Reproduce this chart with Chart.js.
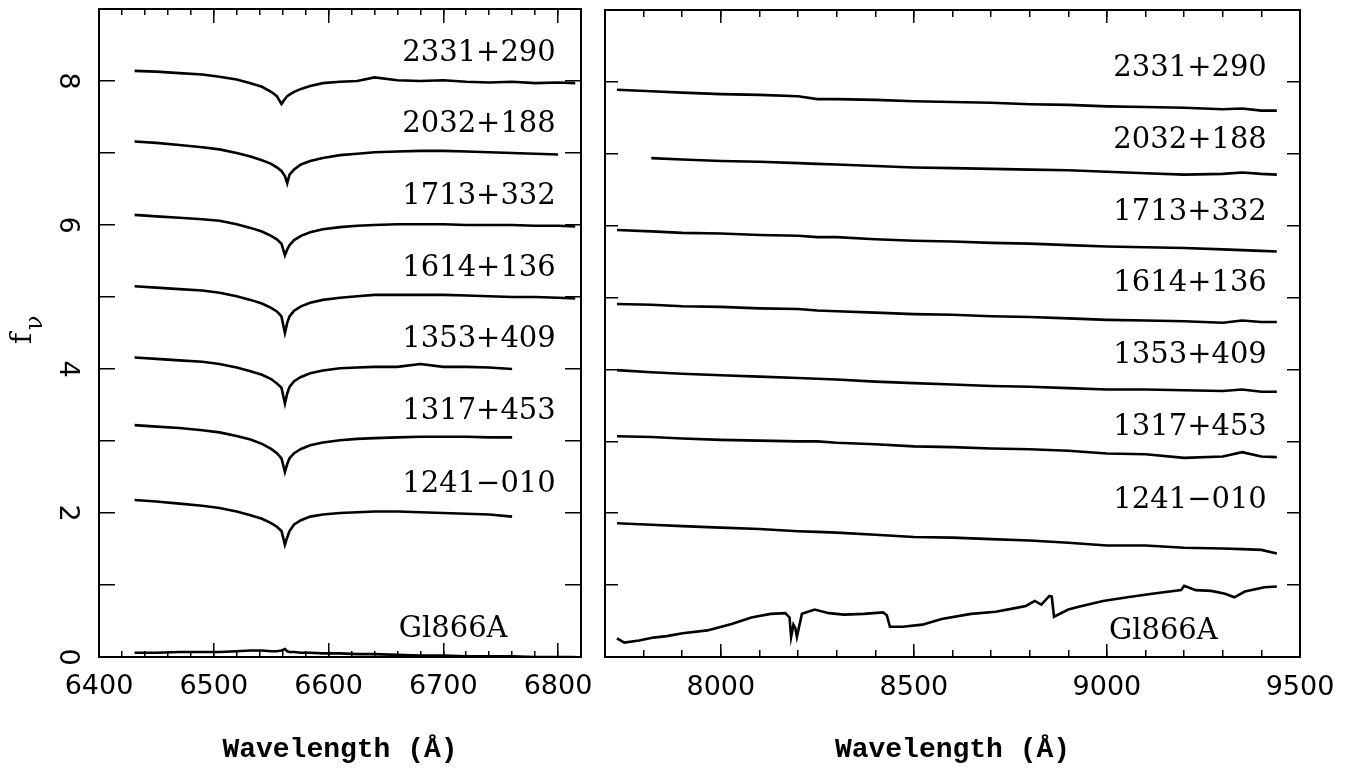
<!DOCTYPE html>
<html>
<head>
<meta charset="utf-8">
<script src="https://cdn.jsdelivr.net/npm/chart.js@4/dist/chart.umd.min.js"></script>
<style>
  html, body { margin: 0; padding: 0; background: #fff; }
  .panel { position: absolute; top: 0; height: 769px; }
  #leftBox { left: 0; width: 595px; }
  #rightBox { left: 595px; width: 760px; }
</style>
</head>
<body>
<div class="panel" id="leftBox"><canvas id="leftChart"></canvas></div>
<div class="panel" id="rightBox"><canvas id="rightChart"></canvas></div>
<script>
// Star names, top to bottom
const starNames = ['2331+290', '2032+188', '1713+332', '1614+136', '1353+409', '1317+453', '1241\u2212010', 'Gl866A'];

// Axis ticks
const leftMajorTicks = [6400, 6500, 6600, 6700, 6800];
const rightMajorTicks = [8000, 8500, 9000, 9500];
const fluxTickLabels = [0, 2, 4, 6, 8];

// Left panel: H-alpha region (wavelength in A, offset f_nu)
const leftWave = [6431, 6450, 6470, 6490, 6505, 6520, 6532, 6542, 6550, 6555, 6559, 6562, 6564, 6566, 6570, 6576, 6584, 6595, 6610, 6625, 6640, 6660, 6680, 6700, 6720, 6740, 6760, 6780, 6800, 6815];
const blue2331 = [8.14, 8.13, 8.11, 8.09, 8.06, 8.02, 7.97, 7.92, 7.85, 7.79, 7.68, 7.75, 7.79, 7.81, 7.85, 7.89, 7.93, 7.97, 7.99, 8.00, 8.05, 8.01, 8.00, 8.01, 7.99, 7.98, 7.99, 7.97, 7.98, 7.97];
const blue2032 = [7.16, 7.14, 7.11, 7.08, 7.05, 7.00, 6.95, 6.90, 6.85, 6.80, 6.75, 6.68, 6.58, 6.70, 6.77, 6.84, 6.89, 6.93, 6.97, 6.99, 7.01, 7.02, 7.03, 7.03, 7.02, 7.01, 7.00, 6.99, 6.98];
const blue1713 = [6.14, 6.12, 6.10, 6.08, 6.06, 6.01, 5.96, 5.91, 5.85, 5.80, 5.74, 5.58, 5.66, 5.72, 5.79, 5.85, 5.90, 5.94, 5.97, 5.99, 6.00, 6.01, 6.01, 6.01, 6.00, 6.00, 6.00, 5.99, 5.99, 5.98];
const blue1614 = [5.15, 5.13, 5.11, 5.09, 5.06, 5.01, 4.96, 4.91, 4.85, 4.80, 4.73, 4.50, 4.64, 4.73, 4.81, 4.87, 4.92, 4.96, 4.99, 5.01, 5.03, 5.03, 5.03, 5.03, 5.02, 5.01, 5.00, 5.00, 4.99, 4.98];
const blue1353 = [4.16, 4.14, 4.12, 4.10, 4.07, 4.02, 3.97, 3.92, 3.86, 3.80, 3.74, 3.52, 3.66, 3.75, 3.83, 3.89, 3.94, 3.98, 4.01, 4.02, 4.03, 4.03, 4.07, 4.03, 4.03, 4.02, 4.00];
const blue1317 = [3.22, 3.20, 3.18, 3.15, 3.12, 3.07, 3.02, 2.96, 2.89, 2.83, 2.76, 2.57, 2.68, 2.76, 2.83, 2.89, 2.94, 2.98, 3.01, 3.03, 3.04, 3.05, 3.06, 3.06, 3.06, 3.05, 3.05];
const blue1241 = [2.18, 2.16, 2.13, 2.10, 2.07, 2.02, 1.97, 1.92, 1.86, 1.81, 1.75, 1.56, 1.66, 1.75, 1.84, 1.90, 1.95, 1.98, 2.00, 2.01, 2.02, 2.02, 2.01, 2.00, 1.99, 1.98, 1.95];
const blueGl866 = [0.06, 0.06, 0.07, 0.07, 0.07, 0.08, 0.09, 0.09, 0.08, 0.08, 0.09, 0.11, 0.08, 0.07, 0.07, 0.06, 0.06, 0.05, 0.05, 0.04, 0.04, 0.03, 0.02, 0.02, 0.01, 0.01, 0.01, 0.00, 0.00, 0.00];

// Right panel: far red region
const rightWave = [7731, 7820, 7900, 8000, 8100, 8200, 8250, 8300, 8400, 8500, 8600, 8700, 8800, 8900, 9000, 9100, 9200, 9300, 9350, 9400, 9440];
const red2331 = [7.89, 7.87, 7.85, 7.83, 7.82, 7.80, 7.76, 7.76, 7.75, 7.73, 7.72, 7.71, 7.69, 7.68, 7.66, 7.65, 7.64, 7.62, 7.63, 7.60, 7.60];
const red2032 = [null, 6.94, 6.92, 6.90, 6.89, 6.87, 6.86, 6.85, 6.83, 6.81, 6.80, 6.79, 6.78, 6.77, 6.75, 6.73, 6.71, 6.72, 6.74, 6.72, 6.71];
const red1713 = [5.94, 5.92, 5.90, 5.89, 5.87, 5.86, 5.84, 5.84, 5.81, 5.79, 5.78, 5.76, 5.75, 5.73, 5.71, 5.70, 5.69, 5.67, 5.66, 5.65, 5.64];
const red1614 = [4.91, 4.90, 4.88, 4.87, 4.85, 4.84, 4.82, 4.81, 4.79, 4.77, 4.76, 4.74, 4.73, 4.71, 4.69, 4.68, 4.67, 4.65, 4.68, 4.66, 4.66];
const red1353 = [3.99, 3.96, 3.94, 3.92, 3.90, 3.88, 3.87, 3.86, 3.83, 3.81, 3.79, 3.77, 3.76, 3.74, 3.72, 3.72, 3.71, 3.70, 3.72, 3.69, 3.69];
const red1317 = [3.07, 3.06, 3.04, 3.02, 3.01, 3.00, 3.00, 2.98, 2.96, 2.93, 2.92, 2.90, 2.89, 2.87, 2.83, 2.82, 2.77, 2.79, 2.85, 2.79, 2.78];
const red1241 = [1.86, 1.84, 1.82, 1.80, 1.78, 1.75, 1.74, 1.73, 1.70, 1.67, 1.66, 1.64, 1.62, 1.59, 1.55, 1.55, 1.52, 1.51, 1.50, 1.49, 1.44];
const glWave = [7731, 7750, 7788, 7826, 7860, 7901, 7965, 8028, 8079, 8129, 8167, 8178, 8182, 8188, 8193, 8197, 8210, 8243, 8280, 8319, 8370, 8420, 8430, 8438, 8471, 8522, 8572, 8648, 8712, 8762, 8790, 8813, 8830, 8851, 8857, 8863, 8900, 8927, 8990, 9053, 9117, 9192, 9200, 9230, 9270, 9306, 9330, 9357, 9408, 9440];
const redGl866 = [0.26, 0.20, 0.23, 0.27, 0.29, 0.33, 0.37, 0.46, 0.55, 0.60, 0.61, 0.55, 0.28, 0.45, 0.40, 0.28, 0.60, 0.66, 0.61, 0.59, 0.60, 0.62, 0.58, 0.42, 0.42, 0.45, 0.53, 0.60, 0.63, 0.68, 0.71, 0.78, 0.73, 0.85, 0.84, 0.56, 0.66, 0.70, 0.78, 0.83, 0.88, 0.93, 0.99, 0.93, 0.92, 0.88, 0.83, 0.91, 0.97, 0.98];

// Where the star names sit (right edge of text, in data units)
const leftLabelWave = [6798, 6798, 6798, 6798, 6798, 6798, 6798, 6756];
const leftLabelFlux = [8.38, 7.40, 6.40, 5.40, 4.41, 3.41, 2.40, 0.38];
const rightLabelWave = [9414, 9414, 9414, 9414, 9414, 9414, 9414, 9287];
const rightLabelFlux = [8.18, 7.18, 6.18, 5.19, 4.19, 3.19, 2.18, 0.36];

const black = '#000';
const tickFont = {family: 'DejaVu Sans', size: 27};

function toPoints(wave, flux) {
    return flux.map((f, i) => ({x: wave[i], y: f})).filter(p => p.y !== null);
}

function spectrum(wave, flux) {
    return {
        data: toPoints(wave, flux),
        borderColor: black,
        borderWidth: 2.6,
        pointRadius: 0,
        tension: 0,
        fill: false
    };
}

// fixed axis sizes so both boxes line up with the picture
function fixSize(dim, v) {
    return s => {
        s[dim] = v;
        s.paddingLeft = s.paddingRight = s.paddingTop = s.paddingBottom = 0;
    };
}

function hAxis(range, pos, step, len, majors, withLabels) {
    const axis = {
        type: 'linear',
        position: pos,
        min: range[0],
        max: range[1],
        weight: withLabels ? 1 : 0,
        ticks: withLabels
            ? {stepSize: step, includeBounds: false, font: tickFont, color: black, padding: 28, minRotation: 0, maxRotation: 0,
               autoSkip: false, callback: v => String(v)}
            : {stepSize: step, includeBounds: false, display: false},
        grid: {drawOnChartArea: false, tickLength: -len, color: black, lineWidth: 1.5},
        border: {display: withLabels || (pos === 'top' && majors !== null), color: black, width: 2},
        title: withLabels
            ? {display: true, text: 'Wavelength (\u00c5)', font: {family: 'Liberation Mono', size: 28, weight: 'bold'}, color: black, padding: {top: 0, bottom: 2}}
            : {display: false},
        afterFit: fixSize('height', withLabels ? 112 : 0)
    };
    if (majors) {
        axis.afterBuildTicks = s => { s.ticks = majors.map(v => ({value: v})); };
    }
    return axis;
}

function vAxis(pos, len, width, withLabels) {
    return {
        type: 'linear',
        position: pos,
        min: 0,
        max: 9,
        ticks: withLabels
            ? {stepSize: 1, font: tickFont, color: black, minRotation: -90, maxRotation: -90, crossAlign: 'center', padding: 39,
               callback: v => (fluxTickLabels.includes(v) ? String(v) : '')}
            : {stepSize: 1, display: false},
        grid: {drawOnChartArea: false, tickLength: -len, color: black, lineWidth: 1.5},
        border: {display: true, color: black, width: 2},
        afterFit: fixSize('width', width)
    };
}

function starLabels(waves, fluxes) {
    return {
        id: 'starLabels',
        afterDatasetsDraw(chart) {
            const {ctx, scales: {x, y}} = chart;
            ctx.save();
            ctx.font = '29px "DejaVu Serif"';
            ctx.fillStyle = black;
            ctx.textAlign = 'right';
            ctx.textBaseline = 'middle';
            starNames.forEach((name, i) => {
                ctx.fillText(name, x.getPixelForValue(waves[i]), y.getPixelForValue(fluxes[i]));
            });
            ctx.restore();
        }
    };
}

// f_nu, rotated, on the left of the first box
const fnuTitle = {
    id: 'fnuTitle',
    afterDraw(chart) {
        const ctx = chart.ctx;
        ctx.save();
        ctx.translate(31, 344);
        ctx.rotate(-Math.PI / 2);
        ctx.fillStyle = black;
        ctx.textBaseline = 'alphabetic';
        ctx.font = '30px "DejaVu Serif"';
        ctx.fillText('f', 0, 0);
        ctx.font = '24px "DejaVu Serif"';
        ctx.fillText('\u03bd', 14, 11);
        ctx.restore();
    }
};

const baseOptions = {
    responsive: true,
    maintainAspectRatio: false,
    animation: false,
    plugins: {legend: {display: false}, tooltip: {enabled: false}}
};

const leftRange = [6400, 6820];
new Chart(document.getElementById('leftChart'), {
    type: 'line',
    data: {
        datasets: [blue2331, blue2032, blue1713, blue1614, blue1353, blue1317, blue1241, blueGl866]
            .map(f => spectrum(leftWave, f))
    },
    options: {
        ...baseOptions,
        layout: {padding: {left: 0, right: 14, top: 9, bottom: 0}},
        scales: {
            x: hAxis(leftRange, 'bottom', 100, 14, leftMajorTicks, true),
            xMinor: hAxis(leftRange, 'bottom', 20, 6, null, false),
            xTop: hAxis(leftRange, 'top', 100, 14, leftMajorTicks, false),
            xTopMinor: hAxis(leftRange, 'top', 20, 6, null, false),
            y: vAxis('left', 16, 99, true),
            y2: vAxis('right', 16, 0, false)
        }
    },
    plugins: [starLabels(leftLabelWave, leftLabelFlux), fnuTitle]
});

const rightRange = [7700, 9500];
new Chart(document.getElementById('rightChart'), {
    type: 'line',
    data: {
        datasets: [red2331, red2032, red1713, red1614, red1353, red1317, red1241]
            .map(f => spectrum(rightWave, f))
            .concat([spectrum(glWave, redGl866)])
    },
    options: {
        ...baseOptions,
        layout: {padding: {left: 0, right: 55, top: 10, bottom: 0}},
        scales: {
            x: hAxis(rightRange, 'bottom', 500, 13, rightMajorTicks, true),
            xMinor: hAxis(rightRange, 'bottom', 100, 7, null, false),
            xTop: hAxis(rightRange, 'top', 500, 13, rightMajorTicks, false),
            xTopMinor: hAxis(rightRange, 'top', 100, 7, null, false),
            y: vAxis('left', 13, 10, false),
            y2: vAxis('right', 13, 0, false)
        }
    },
    plugins: [starLabels(rightLabelWave, rightLabelFlux)]
});
</script>
</body>
</html>
